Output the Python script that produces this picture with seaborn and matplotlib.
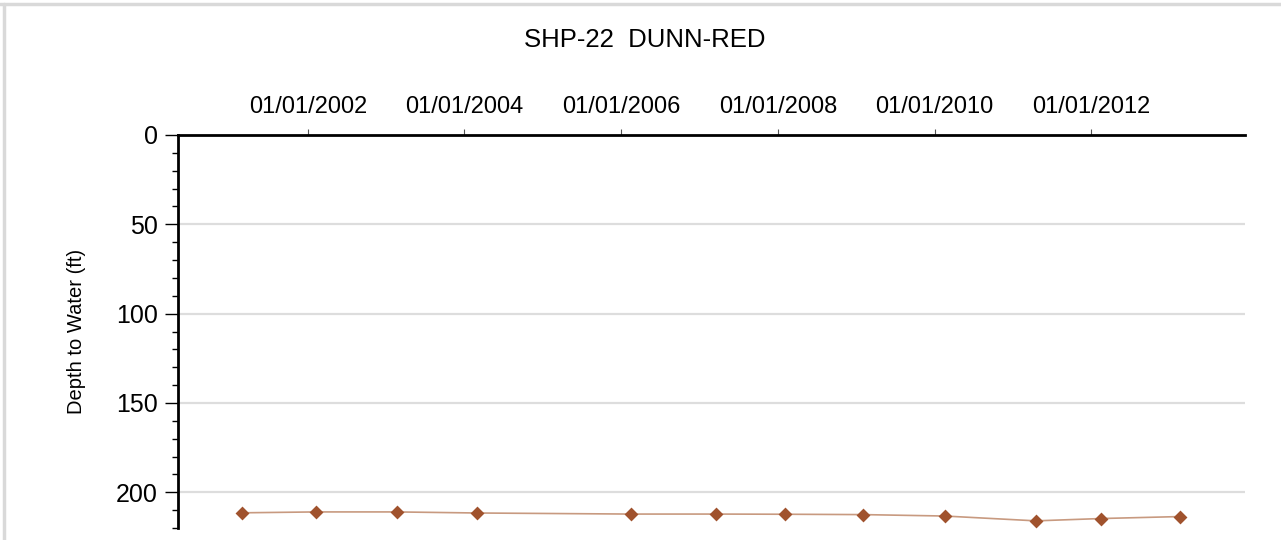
import numpy as np
import pandas as pd
import matplotlib
matplotlib.use("Agg")
import matplotlib.pyplot as plt
import matplotlib.dates as mdates
from matplotlib.ticker import MultipleLocator
from matplotlib.lines import Line2D
import seaborn as sns

# measurement dates and depth to water (ft)
dates = ["2001-02-26", "2002-02-07", "2003-02-20", "2004-02-28", "2006-02-15", "2007-03-18",
         "2008-02-03", "2009-02-01", "2010-02-18", "2011-04-19", "2012-02-16", "2013-02-18"]
depth = [211.5, 211.0, 211.0, 211.6, 212.2, 212.2, 212.3, 212.5, 213.3, 216.0, 214.7, 213.6]
well_name = "SHP-22  DUNN-RED"
y_label = "Depth to Water (ft)"

df = pd.DataFrame({"date": pd.to_datetime(dates), "depth": depth})

sns.set_style("white")
plt.rcParams["font.family"] = ["Liberation Sans", "DejaVu Sans"]
plt.rcParams["text.color"] = "black"
plt.rcParams["axes.labelcolor"] = "black"
plt.rcParams["xtick.color"] = "black"
plt.rcParams["ytick.color"] = "black"

fig = plt.figure(figsize=(12.81, 5.40), dpi=100)
ax = fig.add_axes([178/1281, 1 - 528/540, (1245 - 178)/1281, (528 - 135)/540])

sns.lineplot(data=df, x="date", y="depth", ax=ax, color="#c89a80", linewidth=1.2, zorder=3)
sns.scatterplot(data=df, x="date", y="depth", ax=ax, marker="D", s=50, color="#a0522d",
                edgecolor="#a0522d", linewidth=0, zorder=4)

ax.set_xlim(pd.Timestamp("2000-05-05"), pd.Timestamp("2013-12-19"))
ax.set_ylim(220, 0)

ax.xaxis.set_major_locator(mdates.YearLocator(2))
ax.xaxis.set_major_formatter(mdates.DateFormatter("%m/%d/%Y"))
ax.xaxis.tick_top()
ax.tick_params(axis="x", which="major", direction="out", length=4, width=0.8, color="#555555",
               labelsize=17, labelcolor="black", pad=8)

ax.yaxis.set_major_locator(MultipleLocator(50))
ax.yaxis.set_minor_locator(MultipleLocator(10))
ax.tick_params(axis="y", which="major", direction="out", length=9.5, width=1, color="black",
               labelsize=18, labelcolor="black", pad=5, left=True)
ax.tick_params(axis="y", which="minor", direction="out", length=4.5, width=1, color="black", left=True)

ax.grid(axis="y", which="major", color="#dddddd", linewidth=1.6)
ax.set_axisbelow(True)

for s in ["right", "bottom"]:
    ax.spines[s].set_visible(False)
for s in ["top", "left"]:
    ax.spines[s].set_color("black")
    ax.spines[s].set_linewidth(2)

ax.set_xlabel("")
ax.set_ylabel(y_label, fontsize=14.5, color="black")
ax.yaxis.set_label_coords(-92/1067, 0.5)

fig.text(645/1281, 1 - 40/540, well_name, ha="center", va="center", fontsize=18.5, color="black")

# light frame at top and left of the image
fig.add_artist(Line2D([0, 1], [1 - 4/540, 1 - 4/540], transform=fig.transFigure, color="#d9d9d9", linewidth=2.5))
fig.add_artist(Line2D([4/1281, 4/1281], [0, 1 - 4/540], transform=fig.transFigure, color="#d9d9d9", linewidth=2.5))

fig.savefig("out.png", dpi=100, facecolor="white")
